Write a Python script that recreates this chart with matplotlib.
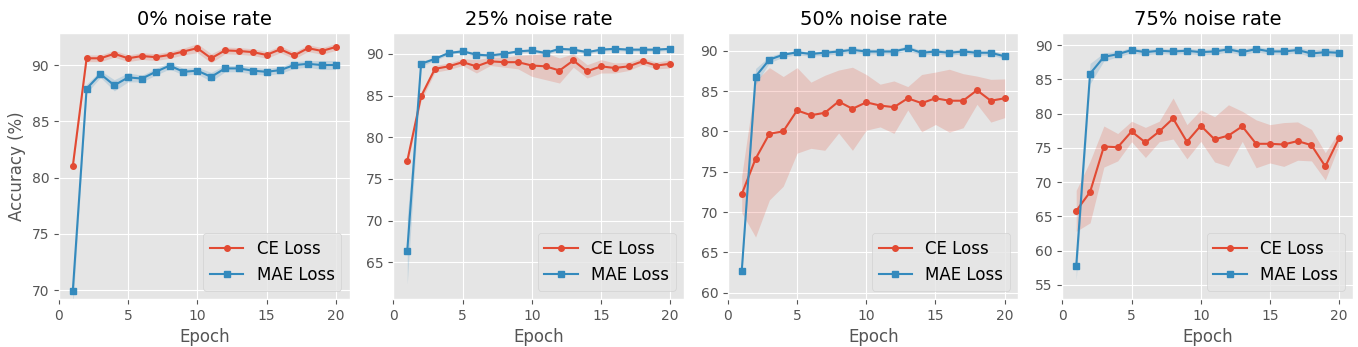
import numpy as np
import matplotlib
matplotlib.use("Agg")
import matplotlib.pyplot as plt

plt.style.use("ggplot")

epochs = np.arange(1, 21)
noise_rates = ["0%", "25%", "50%", "75%"]

# mean test accuracy over runs, per noise rate
ce_mean_0 = [81.0, 90.6, 90.6, 91.0, 90.6, 90.8, 90.7, 90.9, 91.2, 91.5,
             90.6, 91.3, 91.25, 91.15, 90.9, 91.4, 90.85, 91.5, 91.25, 91.6]
mae_mean_0 = [69.9, 87.9, 89.2, 88.2, 88.9, 88.8, 89.4, 89.95, 89.4, 89.5,
              88.95, 89.7, 89.7, 89.5, 89.4, 89.55, 90.0, 90.1, 90.0, 90.0]
ce_mean_25 = [77.15, 84.9, 88.2, 88.5, 89.0, 88.5, 89.1, 89.0, 89.0, 88.6,
              88.5, 88.0, 89.2, 87.9, 88.5, 88.3, 88.5, 89.1, 88.6, 88.8]
mae_mean_25 = [66.4, 88.8, 89.4, 90.1, 90.3, 89.9, 89.8, 90.0, 90.3, 90.4,
               90.1, 90.6, 90.5, 90.2, 90.5, 90.6, 90.5, 90.5, 90.5, 90.6]
ce_mean_50 = [72.2, 76.6, 79.7, 80.0, 82.6, 82.0, 82.3, 83.7, 82.8, 83.6,
              83.2, 83.0, 84.1, 83.5, 84.1, 83.8, 83.8, 85.1, 83.8, 84.1]
mae_mean_50 = [62.65, 86.8, 88.9, 89.5, 89.8, 89.6, 89.75, 89.9, 90.1, 89.9,
               89.9, 89.9, 90.3, 89.75, 89.9, 89.75, 89.9, 89.75, 89.75, 89.3]
ce_mean_75 = [65.8, 68.55, 75.2, 75.1, 77.4, 75.8, 77.4, 79.3, 75.9, 78.25,
              76.25, 76.8, 78.15, 75.6, 75.6, 75.5, 76.0, 75.4, 72.3, 76.45]
mae_mean_75 = [57.7, 85.85, 88.3, 88.7, 89.3, 89.0, 89.2, 89.1, 89.2, 89.0,
               89.1, 89.4, 89.0, 89.45, 89.1, 89.1, 89.3, 88.8, 89.0, 88.9]

# standard deviation over runs
ce_std_0 = [0.3, 0.3, 0.3, 0.3, 0.3, 0.3, 0.3, 0.3, 0.3, 0.4,
            0.4, 0.3, 0.3, 0.3, 0.3, 0.3, 0.3, 0.3, 0.3, 0.3]
mae_std_0 = [1.5, 0.4, 0.3, 0.5, 0.4, 0.3, 0.3, 0.3, 0.3, 0.3,
             0.4, 0.3, 0.3, 0.3, 0.3, 0.3, 0.3, 0.3, 0.4, 0.4]
ce_std_25 = [0.5, 0.5, 0.4, 0.4, 0.4, 0.8, 0.5, 0.6, 0.8, 1.3,
             1.6, 1.5, 0.8, 0.8, 0.8, 0.6, 0.5, 0.4, 0.4, 0.5]
mae_std_25 = [4.0, 0.3, 0.2, 0.2, 0.2, 0.2, 0.2, 0.2, 0.2, 0.2,
              0.2, 0.2, 0.2, 0.2, 0.2, 0.2, 0.2, 0.2, 0.2, 0.2]
ce_std_50 = [2.3, 9.7, 8.2, 6.8, 5.3, 4.1, 4.65, 3.9, 5.15, 3.45,
             2.65, 3.25, 1.45, 3.55, 3.25, 3.9, 3.35, 1.75, 2.65, 2.4]
mae_std_50 = [0.5, 1.0, 0.4, 0.3, 0.3, 0.3, 0.3, 0.3, 0.3, 0.3,
              0.3, 0.3, 0.3, 0.3, 0.3, 0.3, 0.3, 0.3, 0.3, 0.3]
ce_std_75 = [3.0, 4.5, 3.0, 2.0, 1.5, 2.2, 1.5, 3.0, 2.5, 2.3,
             3.3, 4.5, 2.2, 3.5, 2.8, 3.2, 2.8, 2.3, 2.0, 1.0]
mae_std_75 = [2.0, 1.5, 0.6, 0.4, 0.4, 0.4, 0.4, 0.4, 0.4, 0.4,
              0.4, 0.4, 0.4, 0.4, 0.4, 0.4, 0.4, 0.5, 0.5, 0.5]

ce_means = [ce_mean_0, ce_mean_25, ce_mean_50, ce_mean_75]
mae_means = [mae_mean_0, mae_mean_25, mae_mean_50, mae_mean_75]
ce_stds = [ce_std_0, ce_std_25, ce_std_50, ce_std_75]
mae_stds = [mae_std_0, mae_std_25, mae_std_50, mae_std_75]
y_limits = [(69.2, 92.85), (60.6, 92.5), (59.2, 92.2), (52.9, 91.8)]

fig, axes = plt.subplots(1, 4, figsize=(13.58, 3.47), dpi=100)
fig.subplots_adjust(left=0.0434, right=0.9963, top=0.905, bottom=0.138, wspace=0.151)

for i, ax in enumerate(axes):
    for mean, std, marker, label in [(ce_means[i], ce_stds[i], "o", "CE Loss"),
                                     (mae_means[i], mae_stds[i], "s", "MAE Loss")]:
        mean = np.array(mean)
        std = np.array(std)
        line, = ax.plot(epochs, mean, marker=marker, markersize=4, linewidth=1.5, label=label)
        ax.fill_between(epochs, mean - std, mean + std, color=line.get_color(), alpha=0.2, linewidth=0)
    ax.set_title(f"{noise_rates[i]} noise rate", fontsize=14)
    ax.set_xlabel("Epoch", fontsize=12)
    ax.set_xlim(0, 21)
    ax.set_xticks([0, 5, 10, 15, 20])
    ax.set_ylim(*y_limits[i])
    ax.tick_params(labelsize=10)
    ax.legend(loc="lower right", fontsize=12)

axes[0].set_ylabel("Accuracy (%)", fontsize=12)

plt.savefig("out.png", dpi=100)
plt.close()
